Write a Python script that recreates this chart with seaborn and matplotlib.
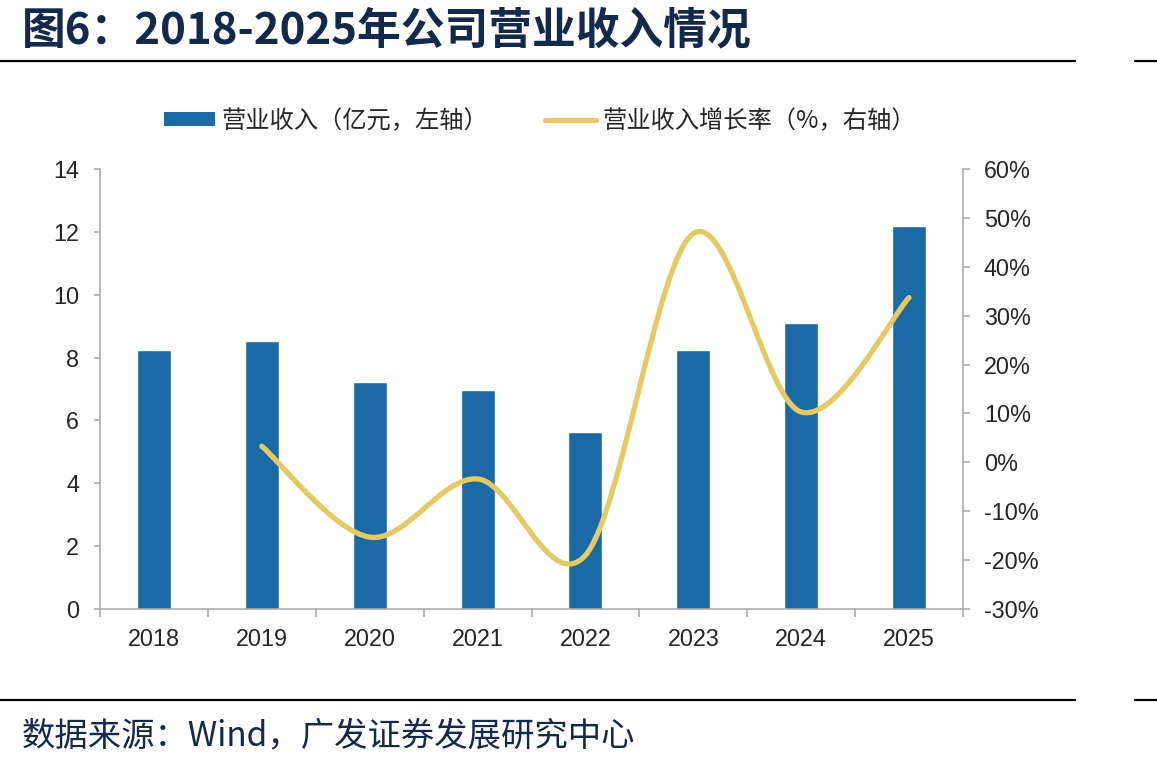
import numpy as np
import pandas as pd
import seaborn as sns
import matplotlib.pyplot as plt
from matplotlib.path import Path
from matplotlib.patches import PathPatch, Patch
from matplotlib.lines import Line2D

# chart data
years = ['2018', '2019', '2020', '2021', '2022', '2023', '2024', '2025']
revenue = [8.24, 8.53, 7.22, 6.97, 5.62, 8.24, 9.10, 12.18]        # 亿元
growth = [None, 3.3, -15.3, -3.4, -19.0, 46.8, 10.3, 33.7]         # %

left_ticks = [0, 2, 4, 6, 8, 10, 12, 14]
right_ticks = [-30, -20, -10, 0, 10, 20, 30, 40, 50, 60]

title = '图6：2018-2025年公司营业收入情况'
source = '数据来源：Wind，广发证券发展研究中心'
bar_label = '营业收入（亿元，左轴）'
line_label = '营业收入增长率（%，右轴）'

bar_color = '#1B6AA5'
line_color = '#E5C964'
axis_color = '#A6A6A6'
text_dark = '#13294B'

sns.set_theme(style='white')
plt.rcParams['font.family'] = ['Noto Sans CJK SC', 'DejaVu Sans']
tick_font = ['Liberation Sans', 'DejaVu Sans']

df = pd.DataFrame({'year': years, 'revenue': revenue, 'growth': growth})

fig = plt.figure(figsize=(11.57, 7.69), dpi=100)
ax = fig.add_axes([100 / 1157, 1 - 609 / 769, 863 / 1157, 440 / 769])

sns.barplot(data=df, x='year', y='revenue', color=bar_color, width=0.315,
            saturation=1, ax=ax, zorder=2)
ax.set_xlim(-0.5, len(years) - 0.5)
ax.set_ylim(0, 14)
ax.set_yticks(left_ticks)
ax.set_xlabel('')
ax.set_ylabel('')

# category ticks at the boundaries, labels at the centres
ax.set_xticks(range(len(years)))
ax.set_xticklabels(years)
ax.set_xticks(np.arange(-0.5, len(years), 1), minor=True)
ax.tick_params(axis='x', which='major', length=0, pad=14, labelsize=16.8)
ax.tick_params(axis='x', which='minor', length=6, width=1.1, color=axis_color,
               direction='out', bottom=True)
ax.tick_params(axis='y', length=4, width=1.1, color=axis_color, pad=11,
               labelsize=16.8, left=True)
for lab in ax.get_xticklabels() + ax.get_yticklabels():
    lab.set_family(tick_font)

for side in ['top', 'right']:
    ax.spines[side].set_visible(False)
for side in ['left', 'bottom']:
    ax.spines[side].set_color(axis_color)
    ax.spines[side].set_linewidth(1.1)

# growth line on right axis, smoothed like the source chart (Bezier through points)
ax2 = ax.twinx()
ax2.set_ylim(-30, 60)
ax2.set_yticks(right_ticks)
ax2.set_yticklabels([f'{t}%' for t in right_ticks])
ax2.tick_params(axis='y', length=5, width=1.1, color=axis_color, pad=10,
                labelsize=16.8, right=True)
for lab in ax2.get_yticklabels():
    lab.set_family(tick_font)
for side in ['top', 'left', 'bottom']:
    ax2.spines[side].set_visible(False)
ax2.spines['right'].set_color(axis_color)
ax2.spines['right'].set_linewidth(1.1)

pts = [(i, g) for i, g in enumerate(growth) if g is not None]
verts = [pts[0]]
codes = [Path.MOVETO]
n = len(pts)
for i in range(n - 1):
    p0 = np.array(pts[max(i - 1, 0)], float)
    p1 = np.array(pts[i], float)
    p2 = np.array(pts[i + 1], float)
    p3 = np.array(pts[min(i + 2, n - 1)], float)
    c1 = p1 + (p2 - p0) / 6
    c2 = p2 - (p3 - p1) / 6
    verts += [tuple(c1), tuple(c2), tuple(p2)]
    codes += [Path.CURVE4] * 3
ax2.add_patch(PathPatch(Path(verts, codes), facecolor='none', edgecolor=line_color,
                        linewidth=3.8, capstyle='round', joinstyle='round', zorder=3))

# legend
handles = [Patch(facecolor=bar_color, edgecolor='none'),
           Line2D([0], [0], color=line_color, linewidth=3.8, solid_capstyle='round')]
fig.legend(handles, [bar_label, line_label], loc='center', ncol=2,
           bbox_to_anchor=(540 / 1157, 1 - 121 / 769), frameon=False,
           fontsize=17.5, handlelength=2.1, handleheight=0.5, handletextpad=0.3,
           columnspacing=2.3)

# title, source and rules
fig.text(22 / 1157, 1 - 30 / 769, title, fontsize=31.5, fontweight='bold',
         color=text_dark, va='center', ha='left')
fig.text(22 / 1157, 1 - 736 / 769, source, fontsize=24, color=text_dark,
         va='center', ha='left')
for y in [61, 700]:
    yy = 1 - y / 769
    fig.add_artist(Line2D([0, 1075 / 1157], [yy, yy], color='black', linewidth=1.6))
    fig.add_artist(Line2D([1135 / 1157, 1], [yy, yy], color='black', linewidth=1.6))

fig.savefig('out.png', dpi=100)
